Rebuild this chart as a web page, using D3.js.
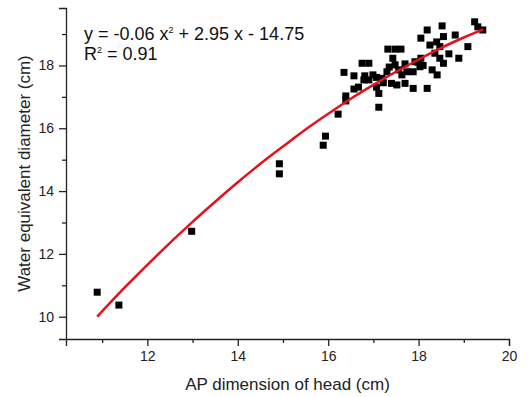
<!DOCTYPE html>
<html>
<head>
<meta charset="utf-8">
<script src="https://cdn.jsdelivr.net/npm/d3@7"></script>
<style>
  body { margin: 0; background: #fff; }
  svg { font-family: "Liberation Sans", Arial, sans-serif; }
</style>
</head>
<body>
<div id="chart"></div>
<script>
// scatter values
const apDim = [10.89, 11.37, 12.98, 14.92, 14.92, 15.94, 15.89, 16.22, 16.39, 16.39,
  16.35, 16.57, 16.57, 16.67, 16.75, 16.90, 16.81, 16.79, 16.90, 16.99,
  17.07, 17.07, 17.12, 17.12, 17.19, 17.30, 17.32, 17.48, 17.61, 17.43,
  17.48, 17.40, 17.52, 17.56, 17.63, 17.70, 17.74, 17.88, 17.88, 17.92,
  18.03, 18.05, 18.05, 18.19, 18.19, 18.25, 18.30, 18.41, 18.36, 18.47,
  18.52, 18.55, 18.47, 18.55, 18.67, 18.81, 18.89, 19.09, 19.24, 19.31,
  19.42, 17.70, 17.35, 17.99, 18.10, 17.22, 18.40];
const waterDiam = [10.78, 10.37, 12.72, 14.87, 14.55, 15.75, 15.46, 16.45, 17.03, 16.87,
  17.78, 17.67, 17.25, 17.31, 18.07, 18.07, 17.67, 17.54, 17.54, 17.70,
  17.62, 17.31, 17.11, 16.67, 17.59, 17.80, 18.52, 18.52, 18.52, 18.23,
  18.02, 17.43, 17.38, 17.86, 17.70, 17.43, 17.80, 17.27, 17.80, 18.12,
  17.96, 18.23, 18.87, 19.13, 17.27, 18.65, 17.86, 17.70, 18.39, 18.60,
  19.26, 18.92, 18.23, 18.07, 18.37, 18.97, 18.23, 18.60, 19.39, 19.23,
  19.13, 18.05, 17.95, 18.10, 18.00, 17.45, 18.75];

// fitted curve, points
const fitX = [10.89, 11.5, 12.0, 12.5, 13.0, 13.5, 14.0, 14.5, 15.0, 15.5,
  16.0, 16.5, 17.0, 17.5, 18.0, 18.5, 19.0, 19.43];
const fitY = [10.00, 10.93, 11.65, 12.35, 13.02, 13.66, 14.28, 14.87, 15.42, 15.96,
  16.46, 16.94, 17.38, 17.80, 18.19, 18.56, 18.89, 19.15];

const xMajor = [12, 14, 16, 18, 20];
const xMinor = [11, 13, 15, 17, 19];
const yMajor = [10, 12, 14, 16, 18];
const yMinor = [11, 13, 15, 17, 19];

const width = 531, height = 397;
const plotLeft = 66, plotRight = 509, plotTop = 8, plotBottom = 339;

const svg = d3.select("#chart").append("svg")
  .attr("width", width)
  .attr("height", height);

const x = d3.scaleLinear().domain([10.2, 20]).range([plotLeft, plotRight]);
const y = d3.scaleLinear().domain([9.29, 19.83]).range([plotBottom, plotTop]);

// axes
const xAxis = d3.axisBottom(x).tickValues(xMajor).tickSize(7).tickPadding(5)
  .tickFormat(d3.format("d"));
const xMinorAxis = d3.axisBottom(x).tickValues(xMinor).tickSize(4).tickFormat("");
const yAxis = d3.axisLeft(y).tickValues(yMajor).tickSize(7).tickPadding(5)
  .tickFormat(d3.format("d"));
const yMinorAxis = d3.axisLeft(y).tickValues(yMinor).tickSize(4).tickFormat("");

function styleAxis(g) {
  g.select(".domain").attr("stroke", "#222").attr("stroke-width", 1.3);
  g.selectAll(".tick line").attr("stroke", "#222").attr("stroke-width", 1.3);
  g.selectAll(".tick text").attr("fill", "#222").style("font-size", "14px");
}

svg.append("g").attr("transform", `translate(0,${plotBottom})`).call(xAxis).call(styleAxis);
svg.append("g").attr("transform", `translate(0,${plotBottom})`).call(xMinorAxis).call(styleAxis)
  .select(".domain").remove();
svg.append("g").attr("transform", `translate(${plotLeft},0)`).call(yAxis).call(styleAxis);
svg.append("g").attr("transform", `translate(${plotLeft},0)`).call(yMinorAxis).call(styleAxis)
  .select(".domain").remove();

// axis titles
svg.append("text")
  .attr("x", (plotLeft + plotRight) / 2)
  .attr("y", 390)
  .attr("text-anchor", "middle")
  .style("font-size", "17px")
  .attr("fill", "#222")
  .text("AP dimension of head (cm)");

svg.append("text")
  .attr("transform", `translate(30,${(plotTop + plotBottom) / 2}) rotate(-90)`)
  .attr("text-anchor", "middle")
  .style("font-size", "17px")
  .attr("fill", "#222")
  .text("Water equivalent diameter (cm)");

// points
const pts = apDim.map((d, i) => ({ x: d, y: waterDiam[i] }));
const sz = 7;
svg.append("g").selectAll("rect")
  .data(pts)
  .join("rect")
  .attr("x", d => x(d.x) - sz / 2)
  .attr("y", d => y(d.y) - sz / 2)
  .attr("width", sz)
  .attr("height", sz)
  .attr("fill", "#000");

// fit line
const fitPts = fitX.map((d, i) => ({ x: d, y: fitY[i] }));
const line = d3.line()
  .x(d => x(d.x))
  .y(d => y(d.y))
  .curve(d3.curveMonotoneX);

svg.append("path")
  .attr("d", line(fitPts))
  .attr("fill", "none")
  .attr("stroke", "#e8101a")
  .attr("stroke-width", 2.5);

// equation
const eq = svg.append("text")
  .attr("x", 84)
  .attr("y", 40)
  .style("font-size", "18px")
  .attr("fill", "#111");
eq.append("tspan").text("y = -0.06 x");
eq.append("tspan").attr("dy", -7).style("font-size", "9px").text("2");
eq.append("tspan").attr("dy", 7).text(" + 2.95 x - 14.75");

const r2 = svg.append("text")
  .attr("x", 84)
  .attr("y", 60)
  .style("font-size", "18px")
  .attr("fill", "#111");
r2.append("tspan").text("R");
r2.append("tspan").attr("dy", -7).style("font-size", "9px").text("2");
r2.append("tspan").attr("dy", 7).text(" = 0.91");
</script>
</body>
</html>
